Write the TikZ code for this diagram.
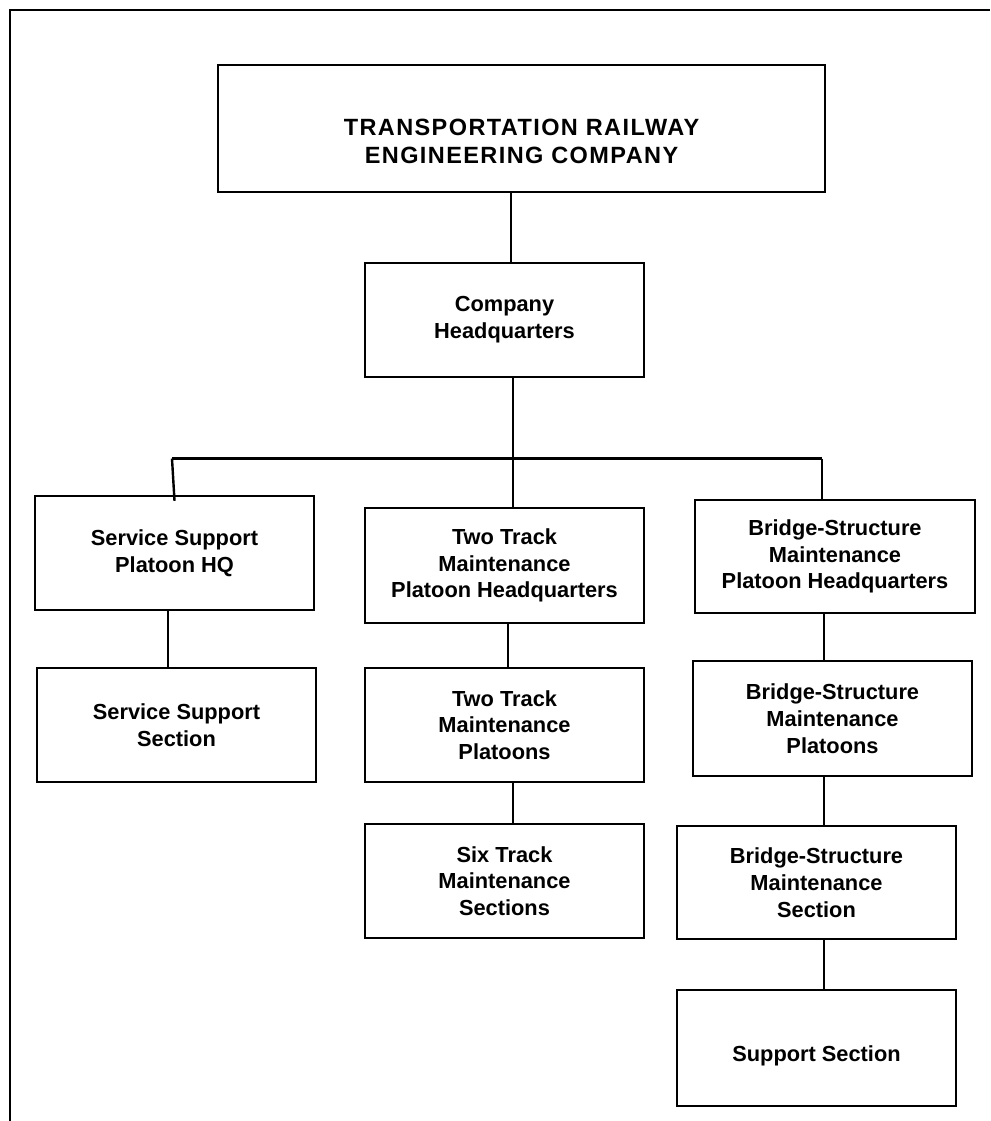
\documentclass[tikz,border=0pt]{standalone}
\usepackage{fontspec}
\setmainfont{Liberation Sans}
\newfontfamily\titlesans[LetterSpace=6]{Liberation Sans}
\begin{document}
\begin{tikzpicture}[x=1pt,y=-1pt,
  unit/.style={draw,line width=2.4pt,align=center,inner sep=0pt,
    font=\bfseries\fontsize{21.8}{26.8}\selectfont},
  caption/.style={align=center,inner sep=0pt,
    font=\bfseries\fontsize{21.8}{26.8}\selectfont},
  title/.style={caption,font=\titlesans\bfseries\fontsize{23.5}{27.5}\selectfont},
  link/.style={line width=2.4pt}]
\useasboundingbox (0,0) rectangle (990,1121);
% page frame: top and left edges only
\draw[line width=2.6pt] (990,10) -- (10,10) -- (10,1121);

% company level
\node[unit,minimum width=607,minimum height=127,
  label={[title,yshift=-13pt]center:TRANSPORTATION RAILWAY\\ENGINEERING COMPANY}]
  (top) at (521.5,128.5) {};
\node[unit,minimum width=279,minimum height=114] (hq) at (504.5,320)
  {Company\\Headquarters};

% left column
\node[unit,minimum width=279,minimum height=114] (ss) at (174.5,553)
  {Service Support\\Platoon HQ};
\node[unit,minimum width=279,minimum height=114] (ss2) at (176.5,725)
  {Service Support\\Section};

% centre column
\node[unit,minimum width=279,minimum height=115] (tt) at (504.5,565.5)
  {Two Track\\Maintenance\\Platoon Headquarters};
\node[unit,minimum width=279,minimum height=114] (ttp) at (504.5,725)
  {Two Track\\Maintenance\\Platoons};
\node[unit,minimum width=279,minimum height=114] (six) at (504.5,881)
  {Six Track\\Maintenance\\Sections};

% right column
\node[unit,minimum width=280,minimum height=113] (br) at (835,556.5)
  {Bridge-Structure\\Maintenance\\Platoon Headquarters};
\node[unit,minimum width=279,minimum height=115] (brp) at (832.5,718.5)
  {Bridge-Structure\\Maintenance\\Platoons};
\node[unit,minimum width=279,minimum height=113] (bs) at (816.5,882.5)
  {Bridge-Structure\\Maintenance\\Section};
\node[unit,minimum width=279,minimum height=116,
  label={[caption,yshift=-8pt]center:Support Section}]
  (sup) at (816.5,1048) {};

% connector columns and the branch bus
\coordinate (kTop) at (511,0);
\coordinate (kSS) at (168,0);
\coordinate (kTT) at (508,0);
\coordinate (kBR) at (824,0);
\coordinate (busL) at (172,458.5);
\coordinate (busC) at (513,458.5);
\coordinate (busR) at (822,458.5);

\draw[link] (top.south -| kTop) -- (hq.north -| kTop);
\draw[link] (hq.south -| busC) -- (busC);
\draw[link] (busL) -- (busR);
\draw[link] (busL) -- ([yshift=-6pt]ss.north);
\draw[link] (busC) -- (tt.north -| busC);
\draw[link] (busR) -- (br.north -| busR);

\draw[link] (ss.south -| kSS) -- (ss2.north -| kSS);
\draw[link] (tt.south -| kTT) -- (ttp.north -| kTT);
\draw[link] (ttp.south -| busC) -- (six.north -| busC);
\draw[link] (br.south -| kBR) -- (brp.north -| kBR);
\draw[link] (brp.south -| kBR) -- (bs.north -| kBR);
\draw[link] (bs.south -| kBR) -- (sup.north -| kBR);
\end{tikzpicture}
\end{document}
